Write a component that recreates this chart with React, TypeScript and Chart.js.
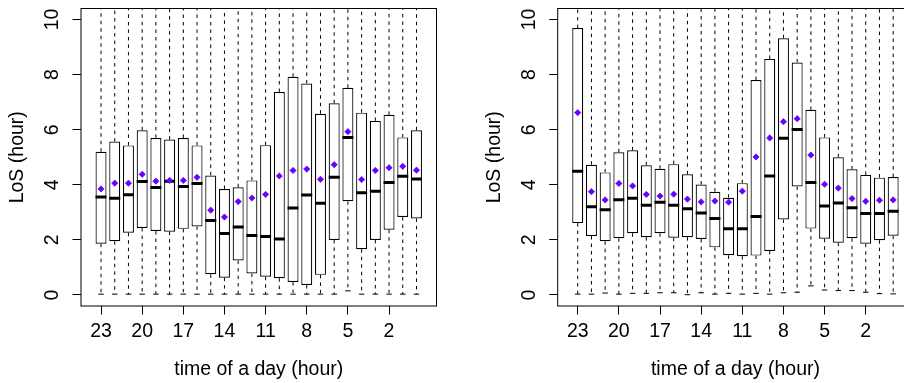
import React, { useEffect, useRef } from 'react';
import { Chart, registerables } from 'chart.js';

Chart.register(...registerables);

// ---- categories / ticks ----
const hours = [23, 22, 21, 20, 19, 18, 17, 16, 15, 14, 13, 12, 11, 10, 9, 8, 7, 6, 5, 4, 3, 2, 1, 0];
const xTickHours = [23, 20, 17, 14, 11, 8, 5, 2];
const yTickValues = [0, 2, 4, 6, 8, 10];
const xTitle = 'time of a day (hour)';
const yTitle = 'LoS (hour)';

// ---- left panel ----
const leftLow = [0.03, 0.03, 0.03, 0.03, 0.03, 0.03, 0.03, 0.03, 0.03, 0.03, 0.03, 0.03, 0.03, 0.03, 0.03, 0.03, 0.03, 0.03, 0.15, 0.03, 0.03, 0.03, 0.03, 0.03];
const leftQ1 = [1.86, 1.95, 2.26, 2.43, 2.32, 2.3, 2.4, 2.49, 0.75, 0.63, 1.25, 0.78, 0.66, 0.61, 0.47, 0.36, 0.73, 2.0, 3.4, 1.66, 2.0, 2.37, 2.83, 2.78];
const leftMedian = [3.56, 3.51, 3.64, 4.12, 3.9, 4.13, 3.94, 4.05, 2.7, 2.23, 2.47, 2.16, 2.12, 2.03, 3.16, 3.63, 3.33, 4.27, 5.72, 3.71, 3.77, 4.08, 4.31, 4.21];
const leftQ3 = [5.2, 5.57, 5.43, 5.98, 5.7, 5.64, 5.7, 5.43, 4.34, 3.85, 3.91, 4.16, 5.44, 7.37, 7.92, 7.68, 6.58, 6.96, 7.52, 6.62, 6.32, 6.54, 5.72, 5.98];
const leftHigh = [12, 12, 12, 12, 12, 12, 12, 12, 12, 12, 12, 12, 12, 12, 12, 12, 12, 12, 12, 12, 12, 12, 12, 12];
const leftMean = [3.85, 4.06, 4.06, 4.38, 4.13, 4.16, 4.16, 4.27, 3.08, 2.83, 3.39, 3.52, 3.65, 4.32, 4.52, 4.57, 4.2, 4.73, 5.93, 4.19, 4.52, 4.62, 4.67, 4.53];

// ---- right panel ----
const rightLow = [0.03, 0.03, 0.07, 0.03, 0.06, 0.06, 0.08, 0.08, 0.01, 0.08, 0.03, 0.06, 0.03, 0.06, 0.03, 0.08, 0.1, 0.33, 0.18, 0.16, 0.16, 0.1, 0.05, 0.04];
const rightQ1 = [2.61, 2.14, 1.95, 2.06, 2.24, 2.1, 2.24, 2.08, 2.1, 2.03, 1.73, 1.44, 1.41, 1.43, 1.6, 2.74, 3.94, 2.41, 2.04, 1.9, 2.06, 1.86, 1.99, 2.15];
const rightMedian = [4.49, 3.2, 3.09, 3.46, 3.51, 3.26, 3.37, 3.26, 3.13, 2.98, 2.78, 2.4, 2.4, 2.85, 4.32, 5.69, 6.01, 4.08, 3.23, 3.34, 3.17, 2.96, 2.96, 3.04];
const rightQ3 = [9.69, 4.73, 4.45, 5.18, 5.25, 4.71, 4.58, 4.75, 4.38, 4.01, 3.75, 3.53, 4.06, 7.8, 8.57, 9.32, 8.44, 6.72, 5.72, 5.0, 4.56, 4.36, 4.26, 4.28];
const rightHigh = [12, 12, 12, 12, 12, 12, 12, 12, 12, 12, 12, 12, 12, 12, 12, 12, 12, 12, 12, 12, 12, 12, 12, 12];
const rightMean = [6.62, 3.75, 3.45, 4.05, 3.96, 3.65, 3.59, 3.66, 3.48, 3.38, 3.41, 3.37, 3.77, 5.01, 5.7, 6.29, 6.4, 5.08, 4.02, 3.88, 3.5, 3.4, 3.44, 3.45];

const FONT = '"Liberation Sans", Arial, Helvetica, sans-serif';
const FONT_SIZE = 19.5;
const MEAN_COLOR = '#6a00ff';

type Series = {
  low: number[];
  q1: number[];
  median: number[];
  q3: number[];
  high: number[];
  mean: number[];
};

const positions = hours.map((_, i) => i + 1);
const xTickPositions = xTickHours.map((h) => hours.indexOf(h) + 1);
const n = hours.length;
const xMin = 0.5 - 0.04 * n;
const xMax = n + 0.5 + 0.04 * n;
const yMin = 0 - 0.04 * 10;
const yMax = 10 + 0.04 * 10;

const decorPlugin = {
  id: 'decor',
  afterDraw(chart: any) {
    const { ctx, chartArea: a, scales } = chart;
    const xs = scales.x;
    const ys = scales.y;
    ctx.save();
    ctx.strokeStyle = '#000';
    ctx.lineWidth = 1;
    ctx.strokeRect(a.left, a.top, a.right - a.left, a.bottom - a.top);
    ctx.fillStyle = '#000';
    ctx.font = `${FONT_SIZE}px ${FONT}`;
    ctx.textAlign = 'center';
    ctx.textBaseline = 'middle';
    xs.ticks.forEach((t: any) => {
      const label = String(hours[Math.round(t.value) - 1]);
      ctx.fillText(label, xs.getPixelForValue(t.value), a.bottom + 26);
    });
    ys.ticks.forEach((t: any) => {
      ctx.save();
      ctx.translate(a.left - 28.5, ys.getPixelForValue(t.value));
      ctx.rotate(-Math.PI / 2);
      ctx.fillText(String(t.value), 0, 0);
      ctx.restore();
    });
    ctx.fillText(xTitle, (a.left + a.right) / 2, a.bottom + 63.5);
    ctx.save();
    ctx.translate(a.left - 63.5, (a.top + a.bottom) / 2);
    ctx.rotate(-Math.PI / 2);
    ctx.fillText(yTitle, 0, 0);
    ctx.restore();
    ctx.restore();
  },
};

function buildConfig(s: Series, yAxisWidth: number, padRight: number): any {
  const whiskers: any[] = [];
  positions.forEach((x, i) => {
    whiskers.push({ x, y: s.q1[i] }, { x, y: s.low[i] }, { x, y: null });
    whiskers.push({ x, y: s.q3[i] }, { x, y: s.high[i] }, { x, y: null });
  });
  return {
    type: 'bar',
    data: {
      datasets: [
        {
          type: 'line',
          data: whiskers,
          borderColor: '#000',
          borderWidth: 1,
          borderDash: [3.5, 4],
          pointRadius: 0,
          spanGaps: false,
          fill: false,
          order: 5,
        },
        {
          type: 'scatter',
          data: positions.map((x, i) => ({ x, y: s.low[i] })),
          pointStyle: 'line',
          radius: 2.75,
          borderColor: '#000',
          borderWidth: 1,
          order: 4,
        },
        {
          type: 'bar',
          data: positions.map((x, i) => ({ x, y: [s.q1[i], s.q3[i]] })),
          backgroundColor: '#ffffff',
          borderColor: '#000',
          borderWidth: 1.2,
          borderSkipped: false,
          categoryPercentage: 0.8,
          barPercentage: 1,
          order: 3,
        },
        {
          type: 'scatter',
          data: positions.map((x, i) => ({ x, y: s.median[i] })),
          pointStyle: 'line',
          radius: 5.5,
          borderColor: '#000',
          borderWidth: 3,
          order: 2,
        },
        {
          type: 'scatter',
          data: positions.map((x, i) => ({ x, y: s.mean[i] })),
          pointStyle: 'rectRot',
          radius: 3.1,
          backgroundColor: MEAN_COLOR,
          borderColor: MEAN_COLOR,
          borderWidth: 0.8,
          order: 1,
        },
      ],
    },
    options: {
      animation: false,
      responsive: true,
      maintainAspectRatio: false,
      events: [],
      layout: { padding: { left: 0, right: padRight, top: 4.5, bottom: 0 } },
      plugins: { legend: { display: false }, tooltip: { enabled: false } },
      scales: {
        x: {
          type: 'linear',
          min: xMin,
          max: xMax,
          offset: false,
          grid: {
            offset: false,
            drawOnChartArea: false,
            drawTicks: true,
            tickLength: 8.5,
            color: '#000',
            tickColor: '#000',
            lineWidth: 1,
          },
          border: { display: false },
          ticks: { display: false },
          afterBuildTicks: (scale: any) => {
            scale.ticks = xTickPositions.map((v) => ({ value: v }));
          },
          afterFit: (scale: any) => {
            scale.height = 77;
          },
        },
        y: {
          type: 'linear',
          min: yMin,
          max: yMax,
          grid: {
            drawOnChartArea: false,
            drawTicks: true,
            tickLength: 8.5,
            color: '#000',
            tickColor: '#000',
            lineWidth: 1,
          },
          border: { display: false },
          ticks: { display: false },
          afterBuildTicks: (scale: any) => {
            scale.ticks = yTickValues.map((v) => ({ value: v }));
          },
          afterFit: (scale: any) => {
            scale.width = yAxisWidth;
          },
        },
      },
    },
    plugins: [decorPlugin],
  };
}

function Panel(props: { series: Series; left: number; width: number; yAxisWidth: number; padRight: number }) {
  const ref = useRef<HTMLCanvasElement>(null);
  const { series, left, width, yAxisWidth, padRight } = props;
  useEffect(() => {
    if (!ref.current) return;
    const chart = new Chart(ref.current, buildConfig(series, yAxisWidth, padRight));
    return () => chart.destroy();
  }, []);
  return (
    <div style={{ position: 'absolute', left, top: 0, width, height: 383 }}>
      <canvas ref={ref} />
    </div>
  );
}

export default function App() {
  const leftSeries: Series = { low: leftLow, q1: leftQ1, median: leftMedian, q3: leftQ3, high: leftHigh, mean: leftMean };
  const rightSeries: Series = { low: rightLow, q1: rightQ1, median: rightMedian, q3: rightQ3, high: rightHigh, mean: rightMean };
  return (
    <div style={{ position: 'fixed', left: 0, top: 0, width: 904, height: 383, overflow: 'hidden', background: '#fff' }}>
      <Panel series={leftSeries} left={0} width={452} yAxisWidth={81} padRight={15.5} />
      <Panel series={rightSeries} left={452} width={480} yAxisWidth={105.7} padRight={18.8} />
    </div>
  );
}
